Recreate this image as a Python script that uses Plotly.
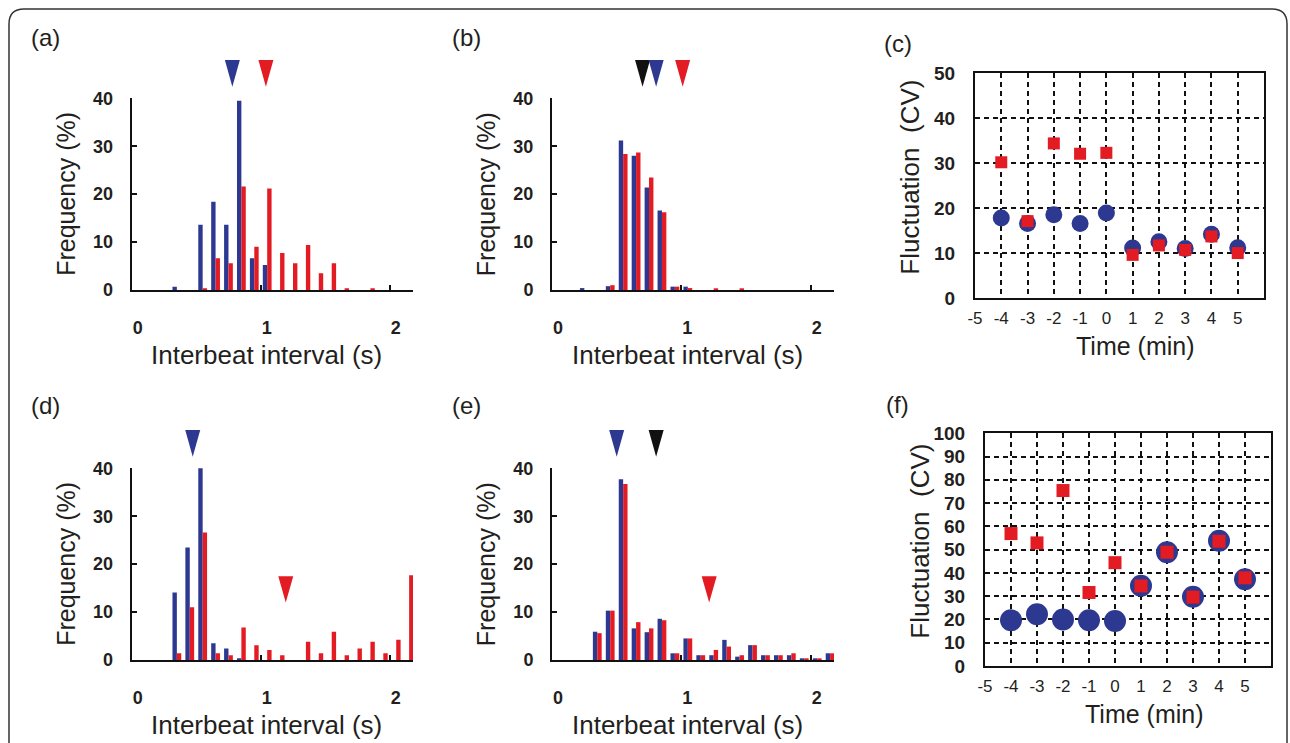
import plotly.graph_objects as go

W, H = 1290, 743

# ---------------- data ----------------
# histogram bin centres (interbeat interval, s)
BINS = [0.05, 0.15, 0.25, 0.35, 0.45, 0.55, 0.65, 0.75, 0.85, 0.95, 1.05,
        1.15, 1.25, 1.35, 1.45, 1.55, 1.65, 1.75, 1.85, 1.95, 2.05, 2.15]

A_BLUE = [0, 0, 0, 0.7, 0, 13.6, 18.4, 13.6, 39.5, 6.6, 5.2,
          0, 0, 0, 0, 0, 0, 0, 0, 0, 0, 0]
A_RED = [0, 0, 0, 0, 0, 0.35, 6.6, 5.6, 21.6, 9.0, 21.2,
         7.7, 5.6, 9.4, 3.5, 5.6, 0.35, 0, 0.35, 0, 0, 0]

B_BLUE = [0, 0, 0.4, 0, 0.8, 31.2, 28.0, 21.4, 16.6, 0.7, 0.7,
          0, 0, 0, 0, 0, 0, 0, 0, 0, 0, 0]
B_RED = [0, 0, 0, 0, 1.0, 28.4, 28.7, 23.5, 16.2, 0.7, 0.4,
         0, 0.3, 0, 0.3, 0, 0, 0, 0, 0, 0, 0]

D_BLUE = [0, 0, 0, 14.1, 23.5, 40.3, 3.5, 2.4, 0.35, 0, 0,
          0, 0, 0, 0, 0, 0, 0, 0, 0, 0, 0]
D_RED = [0, 0, 0, 1.4, 11.0, 26.6, 1.4, 1.0, 6.8, 3.1, 2.1,
         1.0, 0, 3.8, 1.4, 5.9, 1.0, 2.4, 3.8, 1.4, 4.2, 17.7]

E_BLUE = [0, 0, 0, 5.9, 10.3, 37.7, 6.6, 5.8, 8.6, 1.4, 4.5,
          1.0, 1.0, 4.2, 0.7, 3.1, 1.0, 1.0, 1.0, 0.35, 0.35, 1.4]
E_RED = [0, 0, 0, 5.6, 10.3, 36.7, 7.9, 6.6, 8.3, 1.4, 4.5,
         1.0, 2.1, 2.8, 1.0, 3.1, 1.0, 1.0, 1.4, 0.35, 0.35, 1.4]

# mean-interval arrowheads: position (s), colour, level
A_ARROW_X = [0.78, 1.04]
A_ARROW_C = ["blue", "red"]
A_ARROW_L = ["high", "high"]
B_ARROW_X = [0.70, 0.805, 1.01]
B_ARROW_C = ["black", "blue", "red"]
B_ARROW_L = ["high", "high", "high"]
D_ARROW_X = [0.473, 1.194]
D_ARROW_C = ["blue", "red"]
D_ARROW_L = ["high", "low"]
E_ARROW_X = [0.50, 0.805, 1.215]
E_ARROW_C = ["blue", "black", "red"]
E_ARROW_L = ["high", "high", "low"]

TIME = [-4, -3, -2, -1, 0, 1, 2, 3, 4, 5]
C_BLUE = [17.8, 16.6, 18.5, 16.6, 18.9, 11.1, 12.5, 11.0, 14.2, 11.2]
C_RED = [30.2, 17.1, 34.4, 32.1, 32.3, 9.6, 11.7, 10.7, 13.7, 10.0]
F_BLUE = [19.7, 22.2, 20.0, 19.7, 19.3, 34.5, 48.9, 29.8, 53.8, 37.3]
F_RED = [56.9, 52.9, 75.4, 31.6, 44.4, 34.4, 48.9, 29.6, 53.6, 37.9]

HIST_YTICKS = [0, 10, 20, 30, 40]
HIST_XTICKS = [0, 1, 2]
C_YTICKS = [0, 10, 20, 30, 40, 50]
F_YTICKS = [0, 10, 20, 30, 40, 50, 60, 70, 80, 90, 100]
TIME_TICKS = [-5, -4, -3, -2, -1, 0, 1, 2, 3, 4, 5]
TIME_TICK_TEXT = ["-5", "-4", "-3", "-2", "-1", "0", "1", "2", "3", "4", "5"]

# ---------------- style ----------------
BLUE = "#2d3891"
RED = "#e31b23"
BLACK = "#111111"
TXT = "#231f20"
FONT = "Liberation Sans, Arial, sans-serif"
COLS = {"blue": BLUE, "red": RED, "black": BLACK}
LEVELS = {"high": (42.4, 48.0), "low": (12.0, 17.5)}  # tip, top (in % units)
TRI_HW = 0.058
BAR_W = 0.034


def pxx(x):
    return x / W


def pxy(y):
    return 1 - y / H


fig = go.Figure()

hist_panels = [
    ("a", "x", "y", (131.7, 413.0), (98.3, 290.0), A_BLUE, A_RED,
     A_ARROW_X, A_ARROW_C, A_ARROW_L),
    ("b", "x2", "y2", (552.0, 834.0), (98.3, 290.0), B_BLUE, B_RED,
     B_ARROW_X, B_ARROW_C, B_ARROW_L),
    ("d", "x3", "y3", (131.7, 413.0), (468.3, 660.0), D_BLUE, D_RED,
     D_ARROW_X, D_ARROW_C, D_ARROW_L),
    ("e", "x4", "y4", (552.0, 834.0), (468.3, 660.0), E_BLUE, E_RED,
     E_ARROW_X, E_ARROW_C, E_ARROW_L),
]

HIST_XMAX = 2.18
HIST_YMAX = 40

shapes = []
annotations = []
layout_axes = {}

for name, xa, ya, xd, yd, blue, red, ax_x, ax_c, ax_l in hist_panels:
    fig.add_trace(go.Bar(x=BINS, y=blue, xaxis=xa, yaxis=ya, width=BAR_W,
                         offset=-BAR_W, marker=dict(color=BLUE, line_width=0),
                         cliponaxis=False, showlegend=False))
    fig.add_trace(go.Bar(x=BINS, y=red, xaxis=xa, yaxis=ya, width=BAR_W,
                         offset=0, marker=dict(color=RED, line_width=0),
                         cliponaxis=False, showlegend=False))
    xkey = "xaxis" + xa[1:]
    ykey = "yaxis" + ya[1:]
    layout_axes[xkey] = dict(
        domain=[pxx(xd[0]), pxx(xd[1])], range=[0, HIST_XMAX], anchor=ya,
        automargin=False,
        showline=True, linecolor=BLACK, linewidth=2, showgrid=False,
        zeroline=False, tickvals=HIST_XTICKS, ticks="inside", ticklen=5,
        tickcolor=BLACK, tickwidth=1.5,
        tickfont=dict(family=FONT, size=18, color=TXT, weight="bold"),
        ticklabelstandoff=20, ticklabelshift=6)
    layout_axes[ykey] = dict(
        domain=[pxy(yd[1]), pxy(yd[0])], range=[0, HIST_YMAX], anchor=xa,
        automargin=False,
        showline=True, linecolor=BLACK, linewidth=2, showgrid=False,
        zeroline=False, tickvals=HIST_YTICKS, ticks="inside", ticklen=5,
        tickcolor=BLACK, tickwidth=1.5,
        tickfont=dict(family=FONT, size=18, color=TXT, weight="bold"),
        ticklabelstandoff=13)
    for x, c, lvl in zip(ax_x, ax_c, ax_l):
        tip, top = LEVELS[lvl]
        t0 = tip / HIST_YMAX
        t1 = top / HIST_YMAX
        shapes.append(dict(
            type="path", xref=xa, yref=ya + " domain",
            path=f"M {x - TRI_HW},{t1} L {x + TRI_HW},{t1} L {x},{t0} Z",
            fillcolor=COLS[c], line=dict(width=0), layer="above"))
    annotations.append(dict(
        text="Interbeat interval (s)", xref="paper", yref="paper",
        x=pxx((xd[0] + xd[1]) / 2 - 6), y=pxy(yd[1] + 65),
        showarrow=False, font=dict(family=FONT, size=26, color=TXT),
        xanchor="center", yanchor="middle"))
    annotations.append(dict(
        text="Frequency (%)", xref="paper", yref="paper",
        x=pxx(xd[0] - 66), y=pxy((yd[0] + yd[1]) / 2),
        showarrow=False, textangle=-90,
        font=dict(family=FONT, size=25, color=TXT),
        xanchor="center", yanchor="middle"))

scatter_panels = [
    ("c", "x5", "y5", (975.0, 1264.0), (73.3, 298.0), C_BLUE, C_RED,
     C_YTICKS, 50, 17, 12),
    ("f", "x6", "y6", (985.0, 1271.0), (433.3, 666.0), F_BLUE, F_RED,
     F_YTICKS, 100, 22, 13),
]

for name, xa, ya, xd, yd, blue, red, yt, ymax, bsz, rsz in scatter_panels:
    fig.add_trace(go.Scatter(x=TIME, y=blue, xaxis=xa, yaxis=ya, mode="markers",
                             marker=dict(symbol="circle", size=bsz, color=BLUE,
                                         line_width=0),
                             cliponaxis=False, showlegend=False))
    fig.add_trace(go.Scatter(x=TIME, y=red, xaxis=xa, yaxis=ya, mode="markers",
                             marker=dict(symbol="square", size=rsz, color=RED,
                                         line_width=0),
                             cliponaxis=False, showlegend=False))
    xkey = "xaxis" + xa[1:]
    ykey = "yaxis" + ya[1:]
    layout_axes[xkey] = dict(
        domain=[pxx(xd[0]), pxx(xd[1])], range=[-5, 6], anchor=ya,
        automargin=False,
        showline=True, mirror=True, linecolor=BLACK, linewidth=2,
        showgrid=True, gridcolor=BLACK, gridwidth=1.5, griddash="5px,4px",
        zeroline=False, tickvals=TIME_TICKS, ticktext=TIME_TICK_TEXT, ticks="",
        tickfont=dict(family=FONT, size=17, color=TXT),
        ticklabelstandoff=4)
    layout_axes[ykey] = dict(
        domain=[pxy(yd[1]), pxy(yd[0])], range=[0, ymax], anchor=xa,
        automargin=False,
        showline=True, mirror=True, linecolor=BLACK, linewidth=2,
        showgrid=True, gridcolor=BLACK, gridwidth=1.5, griddash="5px,4px",
        zeroline=False, tickvals=yt, ticks="",
        tickfont=dict(family=FONT, size=19, color=TXT, weight="bold"),
        ticklabelstandoff=14)
    annotations.append(dict(
        text="Time (min)", xref="paper", yref="paper",
        x=pxx((xd[0] + xd[1]) / 2 + 16), y=pxy(yd[1] + 48),
        showarrow=False, font=dict(family=FONT, size=25, color=TXT),
        xanchor="center", yanchor="middle"))
    annotations.append(dict(
        text="Fluctuation  (CV)", xref="paper", yref="paper",
        x=pxx(xd[0] - 65), y=pxy((yd[0] + yd[1]) / 2 - 8),
        showarrow=False, textangle=-90,
        font=dict(family=FONT, size=26, color=TXT),
        xanchor="center", yanchor="middle"))

PANEL_LABELS = ["(a)", "(b)", "(c)", "(d)", "(e)", "(f)"]
PANEL_POS = [(45, 37), (466, 37), (898, 44), (45, 405), (466, 405), (898, 404)]
for lab, (px, py) in zip(PANEL_LABELS, PANEL_POS):
    annotations.append(dict(
        text=lab, xref="paper", yref="paper", x=pxx(px), y=pxy(py),
        showarrow=False, font=dict(family=FONT, size=24, color=TXT),
        xanchor="center", yanchor="middle"))

# rounded outer frame (open at bottom)
r = 15
L, T, R, B = 9, 9, 1287, 780
frame = (f"M {pxx(L)},{pxy(B)} L {pxx(L)},{pxy(T + r)} "
         f"Q {pxx(L)},{pxy(T)} {pxx(L + r)},{pxy(T)} "
         f"L {pxx(R - r)},{pxy(T)} Q {pxx(R)},{pxy(T)} {pxx(R)},{pxy(T + r)} "
         f"L {pxx(R)},{pxy(B)}")
shapes.append(dict(type="path", xref="paper", yref="paper", path=frame,
                   line=dict(color="#333333", width=1.5)))

fig.update_layout(
    width=W, height=H, margin=dict(l=0, r=0, t=0, b=0, autoexpand=False),
    paper_bgcolor="white", plot_bgcolor="white",
    barmode="overlay", shapes=shapes, annotations=annotations,
    font=dict(family=FONT, color=TXT),
    **layout_axes)

fig.write_html("out.html",
               config={"displayModeBar": False},
               post_script="document.body.style.margin='0px';"
                           "document.body.style.overflow='hidden';")
